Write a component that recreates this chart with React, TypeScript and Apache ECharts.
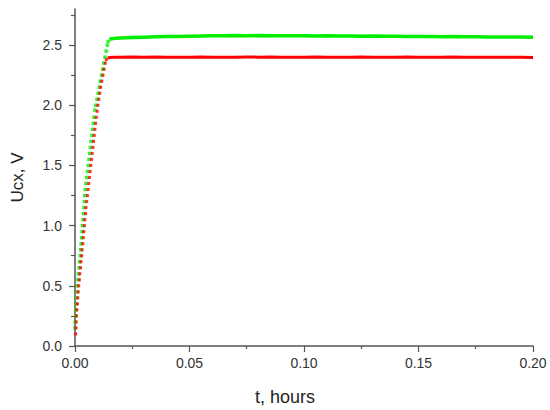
import React, { useEffect, useRef } from "react";
import * as echarts from "echarts";

// Rising part (individual samples), [t hours, U V]
const greenRise: [number, number][] = [
  [0.0, 0.15], [0.0001, 0.2], [0.0003, 0.25], [0.0004, 0.3], [0.0006, 0.35], [0.0007, 0.4],
  [0.0009, 0.45], [0.001, 0.5], [0.0013, 0.55], [0.0015, 0.6], [0.0018, 0.65], [0.002, 0.7],
  [0.0023, 0.75], [0.0025, 0.8], [0.0027, 0.85], [0.0029, 0.9], [0.0031, 0.95], [0.0033, 1.0],
  [0.0035, 1.05], [0.0037, 1.1], [0.0039, 1.15], [0.0041, 1.2], [0.0043, 1.25], [0.0045, 1.3],
  [0.0048, 1.35], [0.0051, 1.4], [0.0055, 1.45], [0.0058, 1.5], [0.0061, 1.55], [0.0064, 1.6],
  [0.0067, 1.65], [0.007, 1.7], [0.0074, 1.75], [0.0077, 1.8], [0.008, 1.85], [0.0083, 1.9],
  [0.0087, 1.96], [0.0091, 2.0], [0.0096, 2.05], [0.0101, 2.1], [0.0106, 2.15], [0.0111, 2.2],
  [0.0116, 2.25], [0.0121, 2.3], [0.0126, 2.35], [0.0131, 2.4], [0.0136, 2.45], [0.0141, 2.5],
  [0.0145, 2.53],
];

const redRise: [number, number][] = [
  [0.0003, 0.1], [0.0004, 0.15], [0.0005, 0.2], [0.0006, 0.25], [0.0008, 0.3], [0.001, 0.35],
  [0.0012, 0.4], [0.0014, 0.45], [0.0016, 0.5], [0.0019, 0.55], [0.0021, 0.6], [0.0024, 0.65],
  [0.0026, 0.7], [0.0029, 0.75], [0.0031, 0.8], [0.0034, 0.85], [0.0036, 0.9], [0.0038, 0.95],
  [0.0041, 1.0], [0.0043, 1.05], [0.0046, 1.1], [0.0048, 1.15], [0.0051, 1.2], [0.0054, 1.25],
  [0.0057, 1.3], [0.006, 1.35], [0.0063, 1.4], [0.0066, 1.45], [0.0069, 1.5], [0.0072, 1.55],
  [0.0075, 1.6], [0.0078, 1.65], [0.0081, 1.7], [0.0084, 1.75], [0.0087, 1.8], [0.009, 1.85],
  [0.0093, 1.9], [0.0097, 1.95], [0.01, 2.0], [0.0104, 2.05], [0.0108, 2.1], [0.0112, 2.15],
  [0.0117, 2.2], [0.0122, 2.25], [0.0127, 2.3], [0.0132, 2.35], [0.0137, 2.38],
];

// Plateau part
const greenFlat: [number, number][] = [
  [0.015, 2.548], [0.016, 2.553], [0.0175, 2.556], [0.02, 2.559], [0.025, 2.563], [0.03, 2.566],
  [0.035, 2.569], [0.04, 2.571], [0.045, 2.572], [0.05, 2.574], [0.055, 2.575], [0.06, 2.577],
  [0.065, 2.578], [0.07, 2.579], [0.075, 2.578], [0.08, 2.579], [0.085, 2.578], [0.09, 2.577],
  [0.095, 2.578], [0.1, 2.577], [0.105, 2.576], [0.11, 2.577], [0.115, 2.575], [0.12, 2.576],
  [0.125, 2.574], [0.13, 2.575], [0.135, 2.573], [0.14, 2.574], [0.145, 2.572], [0.15, 2.572],
  [0.155, 2.571], [0.16, 2.57], [0.165, 2.571], [0.17, 2.569], [0.175, 2.569], [0.18, 2.568],
  [0.185, 2.568], [0.19, 2.567], [0.195, 2.567], [0.2, 2.566],
];

const redFlat: [number, number][] = [
  [0.0143, 2.392], [0.015, 2.397], [0.0175, 2.399], [0.02, 2.4], [0.025, 2.401], [0.03, 2.4],
  [0.035, 2.401], [0.04, 2.4], [0.045, 2.399], [0.05, 2.4], [0.055, 2.401], [0.06, 2.4],
  [0.065, 2.399], [0.07, 2.4], [0.075, 2.401], [0.08, 2.4], [0.085, 2.401], [0.09, 2.4],
  [0.095, 2.399], [0.1, 2.4], [0.105, 2.401], [0.11, 2.4], [0.115, 2.399], [0.12, 2.4],
  [0.125, 2.401], [0.13, 2.4], [0.135, 2.399], [0.14, 2.4], [0.145, 2.401], [0.15, 2.4],
  [0.155, 2.399], [0.16, 2.4], [0.165, 2.401], [0.17, 2.4], [0.175, 2.399], [0.18, 2.4],
  [0.185, 2.399], [0.19, 2.4], [0.195, 2.399], [0.2, 2.398],
];

const yMajorTicks = [0, 0.5, 1.0, 1.5, 2.0, 2.5];
const yMinorTicks = [0.25, 0.75, 1.25, 1.75, 2.25, 2.75];

const GREEN = "#00ee00";
const RED = "#ff0000";
const AXIS = "#555555";
const FONT = "Liberation Sans, Arial, sans-serif";

export default function App() {
  const ref = useRef<HTMLDivElement>(null);
  useEffect(() => {
    if (!ref.current) return;
    const chart = echarts.init(ref.current, undefined, { renderer: "svg" });
    chart.setOption({
      animation: false,
      backgroundColor: "#ffffff",
      grid: { left: 75, right: 17, top: 9, bottom: 64, containLabel: false, outerBoundsMode: "none" },
      xAxis: {
        type: "value",
        min: 0,
        max: 0.2,
        interval: 0.05,
        name: "t, hours",
        nameLocation: "middle",
        nameGap: 42,
        nameTextStyle: { fontSize: 18, color: "#222", fontFamily: FONT, padding: [0, 38, 0, 0] },
        axisLine: { show: true, onZero: false, lineStyle: { color: AXIS, width: 1.5 } },
        axisTick: { show: true, length: 6, lineStyle: { color: AXIS, width: 1.2 } },
        minorTick: { show: true, splitNumber: 2, length: 3, lineStyle: { color: AXIS, width: 1.2 } },
        axisLabel: {
          color: "#333",
          fontSize: 14,
          fontFamily: FONT,
          margin: 10,
          formatter: (v: number) => v.toFixed(2),
        },
        splitLine: { show: false },
        minorSplitLine: { show: false },
      },
      yAxis: [
        {
          type: "value",
          min: 0,
          max: 2.8,
          name: "Ucx, V",
          nameLocation: "middle",
          nameGap: 49,
          nameTextStyle: { fontSize: 17, color: "#222", fontFamily: FONT },
          axisLine: { show: true, onZero: false, lineStyle: { color: AXIS, width: 1.5 } },
          axisTick: { show: true, length: 6, customValues: yMajorTicks, lineStyle: { color: AXIS, width: 1.2 } },
          axisLabel: {
            color: "#333",
            fontSize: 14,
            fontFamily: FONT,
            margin: 13,
            customValues: yMajorTicks,
            formatter: (v: number) => v.toFixed(1),
          },
          splitLine: { show: false },
        },
        {
          type: "value",
          min: 0,
          max: 2.8,
          position: "left",
          axisLine: { show: false },
          axisTick: { show: true, length: 4, customValues: yMinorTicks, lineStyle: { color: AXIS, width: 1.2 } },
          axisLabel: { show: false },
          splitLine: { show: false },
        },
      ],
      series: [
        {
          type: "line",
          data: greenFlat,
          showSymbol: false,
          lineStyle: { color: GREEN, width: 3.5 },
          z: 2,
        },
        {
          type: "line",
          data: redFlat,
          showSymbol: false,
          lineStyle: { color: RED, width: 3 },
          z: 2,
        },
        {
          type: "scatter",
          data: greenRise,
          symbol: "rect",
          symbolSize: 3.5,
          itemStyle: { color: GREEN },
          z: 3,
        },
        {
          type: "scatter",
          data: redRise,
          symbol: "rect",
          symbolSize: 3,
          itemStyle: { color: RED },
          z: 4,
        },
      ],
    });
    return () => chart.dispose();
  }, []);
  return (
    <div
      ref={ref}
      style={{ position: "fixed", left: 0, top: 0, width: 550, height: 410, background: "#fff" }}
    />
  );
}
